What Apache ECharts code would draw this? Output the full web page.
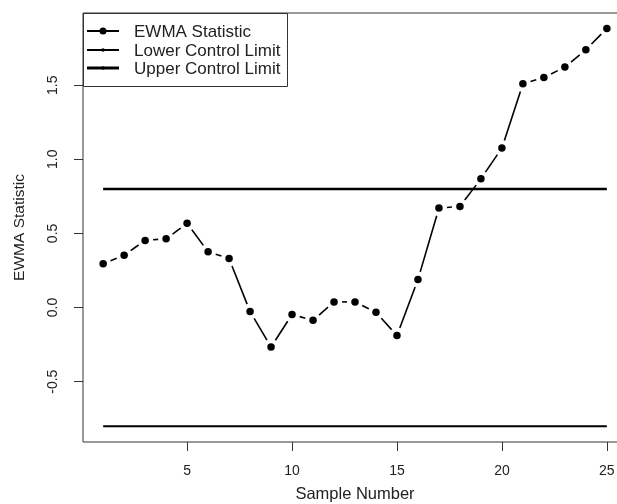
<!DOCTYPE html>
<html>
<head>
<meta charset="utf-8">
<title>EWMA Statistic</title>
<script src="https://cdn.jsdelivr.net/npm/echarts@6/dist/echarts.min.js"></script>
<style>
  html, body { margin: 0; padding: 0; background: #fff; }
  #main { width: 617px; height: 504px; }
</style>
</head>
<body>
<div id="main"></div>
<script>
// sample numbers and EWMA values
var sampleNo = [1, 2, 3, 4, 5, 6, 7, 8, 9, 10, 11, 12, 13, 14, 15, 16, 17, 18, 19, 20, 21, 22, 23, 24, 25];
var ewma = [0.295, 0.353, 0.453, 0.464, 0.568, 0.376, 0.331, -0.027, -0.266, -0.047,
            -0.086, 0.038, 0.038, -0.032, -0.189, 0.189, 0.671, 0.682, 0.869, 1.076,
            1.509, 1.552, 1.622, 1.739, 1.883];
// control limits (drawn from first to last sample)
var limitX = [1, 25];
var lowerLimit = [-0.8, -0.8];
var upperLimit = [0.8, 0.8];
var xTicks = [5, 10, 15, 20, 25];
var yTicks = [-0.5, 0, 0.5, 1, 1.5];
var legendNames = ['EWMA Statistic', 'Lower Control Limit', 'Upper Control Limit'];

var font = 'Liberation Sans, Arial, sans-serif';
var ink = '#222';

// type = "b" : segments between points, with a gap round each point
var segData = [];
for (var i = 0; i < ewma.length - 1; i++) {
  segData.push([sampleNo[i], ewma[i], sampleNo[i + 1], ewma[i + 1]]);
}
var gap = 8;

function pairs(xs, ys) {
  return xs.map(function(x, k) { return [x, ys[k]]; });
}

var chart = echarts.init(document.getElementById('main'));

// legend drawn by hand, R style box in the top left corner
var lg = [];
lg.push({ type: 'rect', shape: { x: 83.5, y: 13.5, width: 204, height: 73 },
          style: { fill: '#fff', stroke: '#333', lineWidth: 1 }, z: 10 });
var rowY = [31, 50, 68];
var lineW = [2, 2, 3];
var dotR = [3.5, 1.8, 1.8];
for (var r = 0; r < 3; r++) {
  lg.push({ type: 'line', shape: { x1: 87, y1: rowY[r], x2: 119, y2: rowY[r] },
            style: { stroke: '#000', lineWidth: lineW[r] }, z: 11 });
  lg.push({ type: 'circle', shape: { cx: 103, cy: rowY[r], r: dotR[r] },
            style: { fill: '#000' }, z: 11 });
  lg.push({ type: 'text', x: 134, y: rowY[r] + 1,
            style: { text: legendNames[r], fill: ink, font: '17px ' + font, verticalAlign: 'middle' }, z: 11 });
}

var option = {
  animation: false,
  backgroundColor: '#fff',
  // plot region runs past the right edge of the picture (cropped)
  grid: {
    left: 83, top: 13, width: 544, height: 429,
    outerBoundsMode: 'none',
    containLabel: false,
    show: true, borderColor: '#333', borderWidth: 1, backgroundColor: 'transparent'
  },
  xAxis: {
    type: 'value',
    min: 0.04, max: 25.96,
    name: 'Sample Number',
    nameLocation: 'middle',
    nameGap: 44,
    nameTextStyle: { color: ink, fontSize: 16.5, fontFamily: font },
    axisLine: { show: false, onZero: false },
    splitLine: { show: false },
    axisTick: { show: true, length: 9, customValues: xTicks, lineStyle: { color: '#333' } },
    axisLabel: { customValues: xTicks, margin: 22, color: ink, fontSize: 14, fontFamily: font }
  },
  yAxis: {
    type: 'value',
    min: -0.907, max: 1.987,
    name: 'EWMA Statistic',
    nameLocation: 'middle',
    nameGap: 55,
    nameTextStyle: { color: ink, fontSize: 15.5, fontFamily: font },
    axisLine: { show: false, onZero: false },
    splitLine: { show: false },
    axisTick: { show: true, length: 9, customValues: yTicks, lineStyle: { color: '#333' } },
    axisLabel: {
      customValues: yTicks, rotate: 90, margin: 23, color: ink, fontSize: 14, fontFamily: font,
      formatter: function(v) { return v.toFixed(1); }
    }
  },
  graphic: lg,
  series: [
    {
      name: 'Lower Control Limit',
      type: 'line',
      data: pairs(limitX, lowerLimit),
      symbol: 'none',
      lineStyle: { color: '#000', width: 2 },
      z: 2
    },
    {
      name: 'Upper Control Limit',
      type: 'line',
      data: pairs(limitX, upperLimit),
      symbol: 'none',
      lineStyle: { color: '#000', width: 2.5 },
      z: 2
    },
    {
      name: 'EWMA segments',
      type: 'custom',
      data: segData,
      encode: { x: [0, 2], y: [1, 3] },
      renderItem: function(params, api) {
        var p0 = api.coord([api.value(0), api.value(1)]);
        var p1 = api.coord([api.value(2), api.value(3)]);
        var dx = p1[0] - p0[0], dy = p1[1] - p0[1];
        var len = Math.sqrt(dx * dx + dy * dy);
        if (len <= 2 * gap) return;
        var ux = dx / len, uy = dy / len;
        return {
          type: 'line',
          shape: { x1: p0[0] + ux * gap, y1: p0[1] + uy * gap, x2: p1[0] - ux * gap, y2: p1[1] - uy * gap },
          style: { stroke: '#000', lineWidth: 1.6 }
        };
      },
      z: 3
    },
    {
      name: 'EWMA Statistic',
      type: 'scatter',
      data: pairs(sampleNo, ewma),
      symbol: 'circle',
      symbolSize: 7.5,
      itemStyle: { color: '#000', opacity: 1 },
      z: 4
    }
  ]
};
chart.setOption(option);
</script>
</body>
</html>
